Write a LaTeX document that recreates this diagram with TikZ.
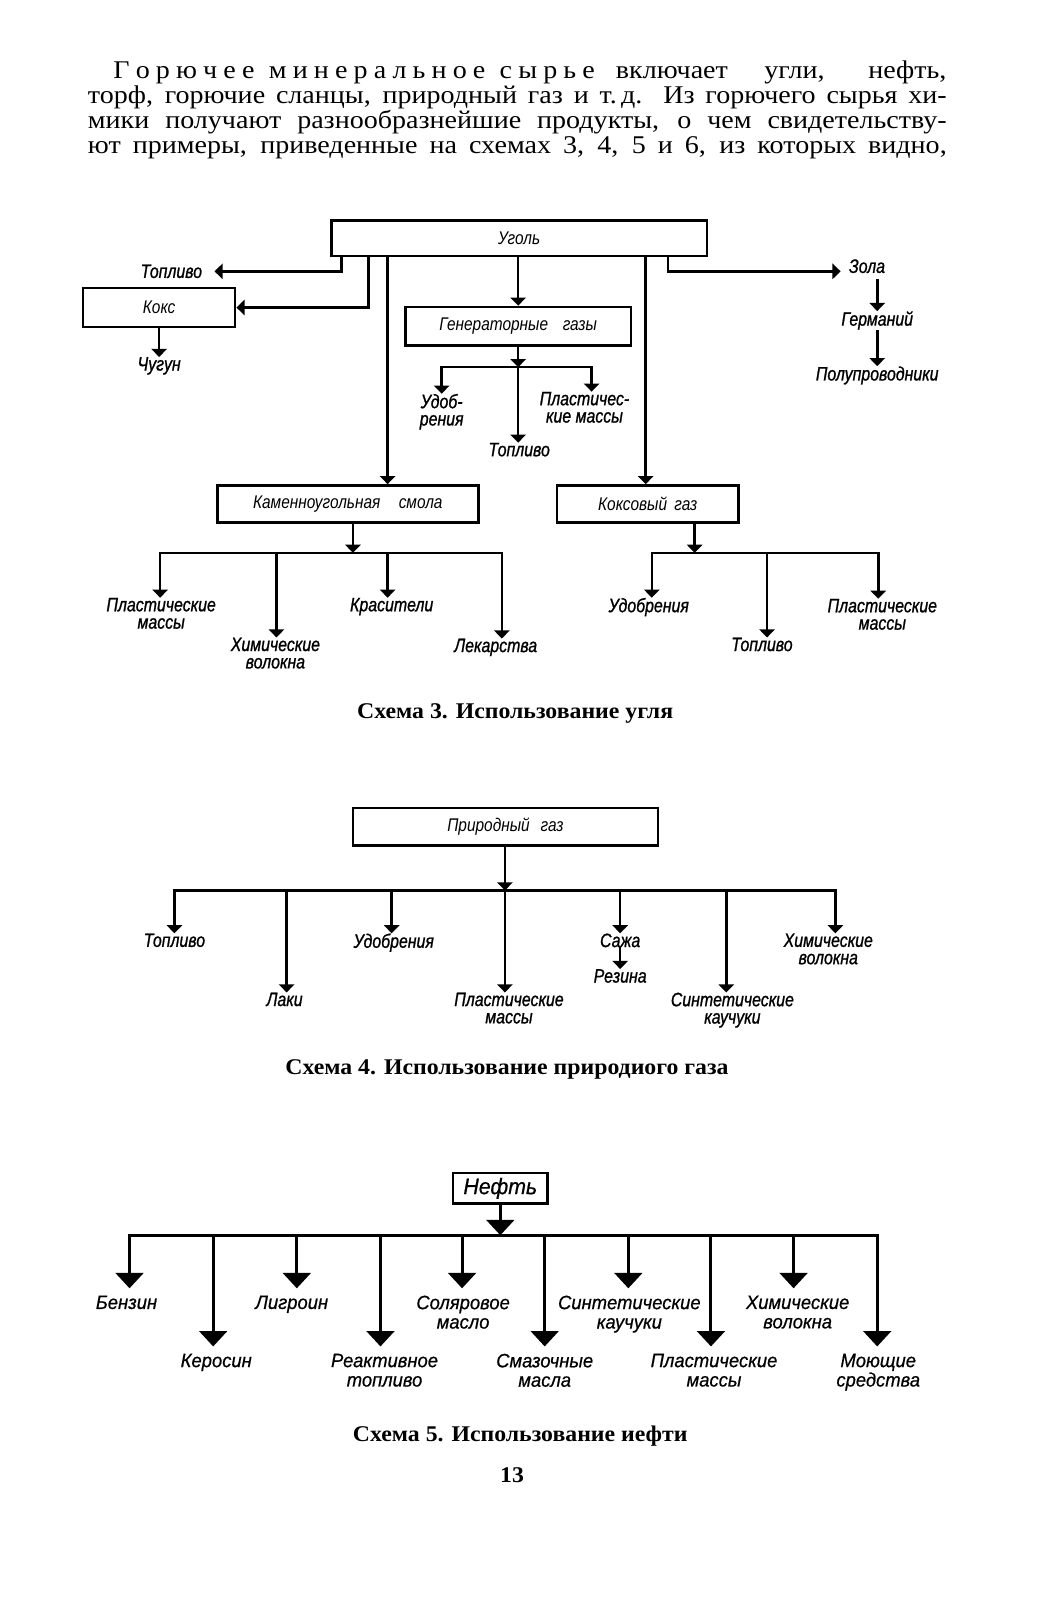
\documentclass[tikz,border=0pt]{standalone}
\usepackage{fontspec}
\setmainfont{Liberation Serif}
\newfontfamily\bodyf{Liberation Serif}[FakeStretch=1.1]
\newfontfamily\capf{Liberation Serif}[FakeStretch=1.06]
\newfontfamily\lbl{Liberation Sans}[FakeStretch=0.82,FakeBold=1]
\newfontfamily\lblb{Liberation Sans}[FakeStretch=0.84]
\newfontfamily\lblw{Liberation Sans}[FakeStretch=0.95,FakeBold=0.6]
\usetikzlibrary{arrows.meta}
\tikzset{
  bx/.style={draw, line width=2.6pt, inner sep=0pt, font=\lblb\itshape\fontsize{18}{18}\selectfont},
  bx5/.style={draw, line width=2.7pt, inner sep=0pt, font=\lblw\itshape\fontsize{22}{22}\selectfont},
  ln/.style={line width=2.5pt},
  ar/.style={ln, -{Triangle[width=15pt,length=8pt]}},
  ln5/.style={line width=3pt},
  bar/.style={ln5, -{Triangle[width=27pt,length=15pt]}},
  barl/.style={bar, shorten >=7pt},
  lb/.style={inner sep=0pt, align=center, font=\lbl\itshape\fontsize{19}{17}\selectfont},
  lbw/.style={inner sep=0pt, align=center, font=\lblw\itshape\fontsize{19}{19}\selectfont},
  bodytxt/.style={inner sep=0pt, anchor=base west, font=\bodyf\fontsize{25}{25}\selectfont},
  captxt/.style={inner sep=0pt, anchor=base, font=\capf\bfseries\fontsize{22}{22}\selectfont},
}
\begin{document}
\begin{tikzpicture}[x=1pt,y=-1pt]
\useasboundingbox (0,0) rectangle (1026.5,1568.6);
\fill[white] (0,0) rectangle (1026.5,1568.6);

% ---------- body text ----------
\node[bodytxt] (l1a) at (111,77) {\hbox to 472pt{Г\hfil о\hfil р\hfil ю\hfil ч\hfil е\hfil е\hskip 8pt plus 1fil м\hfil и\hfil н\hfil е\hfil р\hfil а\hfil л\hfil ь\hfil н\hfil о\hfil е\hskip 8pt plus 1fil с\hfil ы\hfil р\hfil ь\hfil е}};
\node[bodytxt, anchor=base east] (l1b) at (928,77) {\makebox[324pt][s]{включает угли, нефть,}};
\node[bodytxt] (l2) at (86,101.5) {\makebox[842pt][s]{торф, горючие сланцы, природный газ и т.\,д. Из горючего сырья хи-}};
\node[bodytxt] (l3) at (86,126) {\makebox[842pt][s]{мики получают разнообразнейшие продукты, о чем свидетельству-}};
\node[bodytxt] (l4) at (86,150.5) {\makebox[842pt][s]{ют примеры, приведенные на схемах 3, 4, 5 и 6, из которых видно,}};

% ---------- Schema 3 ----------
\node[bx, minimum width=368pt, minimum height=35pt] (ugol) at (509,233.5) {Уголь};
\node[bx, minimum width=149pt, minimum height=38pt] (koks) at (156,301.5) {Кокс};
\node[bx, minimum width=221pt, minimum height=38pt] (gen) at (508,320) {Генераторные\hspace{0.8em}газы};
\node[bx, minimum width=256pt, minimum height=36pt] (kam) at (341,494) {Каменноугольная\hspace{1em}смола};
\node[bx, minimum width=178pt, minimum height=36pt] (kgaz) at (635,494) {Коксовый\hspace{0.4em}газ};

\node[lb] (top1) at (168,266) {Топливо};
\node[lb, anchor=north] (chug) at (156,350) {Чугун};
\node[lb, anchor=north] (udob1) at (433,386) {Удоб-\\рения};
\node[lb, anchor=north] (plast1) at (573,384) {Пластичес-\\кие массы};
\node[lb, anchor=north] (top2) at (509,434) {Топливо};
\node[lb] (zola) at (850,261) {Зола};
\node[lb, anchor=north] (germ) at (860,305) {Германий};
\node[lb, anchor=north] (polu) at (860,359) {Полупроводники};
\node[lb, anchor=north] (plast2) at (158,586) {Пластические\\массы};
\node[lb, anchor=north] (him1) at (270,625) {Химические\\волокна};
\node[lb, anchor=north] (kras) at (384,586) {Красители};
\node[lb, anchor=north] (lek) at (486,626) {Лекарства};
\node[lb, anchor=north] (udob2) at (636,586) {Удобрения};
\node[lb, anchor=north] (top3) at (747,625) {Топливо};
\node[lb, anchor=north] (plast3) at (865,587) {Пластические\\массы};

\coordinate (g1) at (335,0);
\coordinate (g2) at (361,0);
\coordinate (g3) at (380,0);
\coordinate (g4) at (633,0);
\coordinate (g5) at (655,0);
\draw[ar] (ugol.south -| g1) |- ([xshift=12pt]top1.east);
\draw[ar] (ugol.south -| g2) |- (koks.east);
\draw[ar] (ugol.south -| g3) -- (kam.north -| g3);
\draw[ar] (ugol.south -| gen.north) -- (gen.north);
\draw[ar] (ugol.south -| g4) -- (kgaz.north -| g4);
\draw[ar] (ugol.south -| g5) |- ([xshift=-8pt,yshift=-5pt]zola.west);
\draw[ar] ([yshift=-6pt]zola.south -| germ.north) -- (germ.north);
\draw[ar] (germ.south) -- (polu.north);
\draw[ar] (koks.south -| chug.north) -- (chug.north);

\coordinate (gj) at (508,360);
\coordinate (gjr) at (580,360);
\draw[ar] (gen.south) -- (gj);
\draw[ar] (gj) -| (udob1.north);
\draw[ar] (gj) -| (gjr |- plast1.north);
\draw[ar] (gj) -- (gj |- top2.north);

\coordinate (kj) at (346,542);
\coordinate (kd1) at (157,542);
\coordinate (kd2) at (271,542);
\coordinate (kd3) at (380,542);
\coordinate (kd4) at (492,542);
\draw[ar] (kam.south -| kj) -- (kj);
\draw[ar] (kj) -| (kd1 |- plast2.north);
\draw[ar] (kj) -| (kd4 |- lek.north);
\draw[ar] (kd2) -- (kd2 |- him1.north);
\draw[ar] (kd3) -- (kd3 |- kras.north);

\coordinate (kgj) at (681,542);
\coordinate (kg1) at (639,542);
\coordinate (kg2) at (752,542);
\coordinate (kg3) at (861,542);
\draw[ar] (kgaz.south -| kgj) -- (kgj);
\draw[ar] (kgj) -| (kg1 |- udob2.north);
\draw[ar] (kgj) -| (kg3 |- plast3.north);
\draw[ar] (kg2) -- (kg2 |- top3.north);

\node[captxt] (c3) at (505,704) {Схема 3. Использование угля};

% ---------- Schema 4 ----------
\node[bx, minimum width=299pt, minimum height=37pt] (pg) at (495.5,810.5) {Природный\hspace{0.6em}газ};
\node[lb, anchor=north] (top4) at (171,915) {Топливо};
\node[lb, anchor=north] (laki) at (279,973) {Лаки};
\node[lb, anchor=north] (udob3) at (386,915) {Удобрения};
\node[lb, anchor=north] (plast4) at (499,973) {Пластические\\массы};
\node[lb, anchor=north] (saja) at (608,915) {Сажа};
\node[lb, anchor=north] (rez) at (608,950) {Резина};
\node[lb, anchor=north] (sint1) at (718,973) {Синтетические\\каучуки};
\node[lb, anchor=north] (him2) at (812,915) {Химические\\волокна};

\coordinate (pj) at (495,873);
\coordinate (pd2) at (281,873);
\coordinate (pd3) at (384,873);
\coordinate (pd5) at (608,873);
\coordinate (pd6) at (712,873);
\coordinate (pd7) at (819,873);
\draw[ar] (pg.south -| pj) -- (pj);
\draw[ar] (pj) -| (top4.north);
\draw[ar] (pj) -| (pd7 |- him2.north);
\draw[ar] (pd2) -- (pd2 |- laki.north);
\draw[ar] (pd3) -- (pd3 |- udob3.north);
\draw[ar] (pj) -- (pj |- plast4.north);
\draw[ar] (pd5) -- (pd5 |- saja.north);
\draw[ar] (saja.south) -- (rez.north);
\draw[ar] (pd6) -- (pd6 |- sint1.north);

\node[captxt] (c4) at (497,1053) {Схема 4. Использование природиого газа};

% ---------- Schema 5 ----------
\node[bx5, minimum width=93pt, minimum height=30pt] (neft) at (490.5,1165) {Нефть};
\node[lbw, anchor=north] (benz) at (124,1270) {Бензин};
\node[lbw, anchor=north] (ker) at (212,1327) {Керосин};
\node[lbw, anchor=north] (lig) at (286,1270) {Лигроин};
\node[lbw, anchor=north] (reak) at (377,1327) {Реактивное\\топливо};
\node[lbw, anchor=north] (sol) at (454,1270) {Соляровое\\масло};
\node[lbw, anchor=north] (smaz) at (534,1327) {Смазочные\\масла};
\node[lbw, anchor=north] (sint2) at (617,1270) {Синтетические\\каучуки};
\node[lbw, anchor=north] (plast5) at (700,1327) {Пластические\\массы};
\node[lbw, anchor=north] (him3) at (782,1270) {Химические\\волокна};
\node[lbw, anchor=north] (moy) at (861,1327) {Моющие\\средства};

\coordinate (nj) at (490.5,1211);
\coordinate (n1) at (127,1211);
\coordinate (n2) at (209,1211);
\coordinate (n3) at (291,1211);
\coordinate (n4) at (373,1211);
\coordinate (n5) at (453,1211);
\coordinate (n6) at (534,1211);
\coordinate (n7) at (616,1211);
\coordinate (n8) at (697,1211);
\coordinate (n9) at (778,1211);
\coordinate (n10) at (860,1211);
\draw[bar] (neft.south) -- (nj);
\draw[barl] (nj) -| (n1 |- benz.north);
\draw[barl] (nj) -| (n10 |- moy.north);
\draw[barl] (n2) -- (n2 |- ker.north);
\draw[barl] (n3) -- (n3 |- lig.north);
\draw[barl] (n4) -- (n4 |- reak.north);
\draw[barl] (n5) -- (n5 |- sol.north);
\draw[barl] (n6) -- (n6 |- smaz.north);
\draw[barl] (n7) -- (n7 |- sint2.north);
\draw[barl] (n8) -- (n8 |- plast5.north);
\draw[barl] (n9) -- (n9 |- him3.north);

\node[captxt] (c5) at (510,1413) {Схема 5. Использование иефти};
\node[captxt] (pn) at (502,1453) {13};
\end{tikzpicture}
\end{document}
